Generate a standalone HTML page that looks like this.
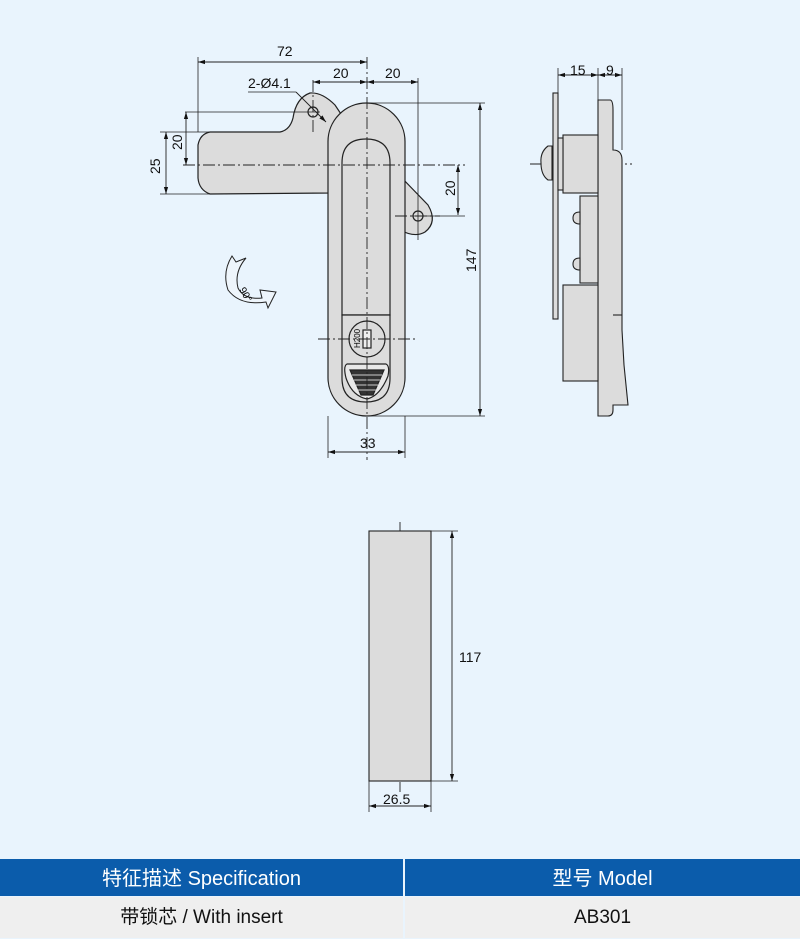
<!DOCTYPE html>
<html><head><meta charset="utf-8"><style>
body{margin:0;width:800px;height:937px;background:#e9f4fd;overflow:hidden;font-family:"Liberation Sans","Noto Sans CJK SC",sans-serif;}
svg{position:absolute;left:0;top:0}
.t{font-family:"Liberation Sans",sans-serif;font-size:14px;fill:#111}
.tbl{position:absolute;left:0;top:859px;width:800px;}
.h{position:absolute;top:0;height:37px;background:#0b5cab;color:#fff;font-size:20px;line-height:40px;text-align:center}
.r{position:absolute;top:38px;height:41px;background:#efefef;color:#111;font-size:19px;line-height:42px;text-align:center}
</style></head><body>
<svg width="800" height="860" viewBox="0 0 800 860">
<defs><marker id="a" viewBox="0 0 10 10" refX="10" refY="5" markerWidth="8" markerHeight="8" orient="auto-start-reverse"><path d="M0,2 L10,5 L0,8 z" fill="#111"/></marker></defs>
<g stroke="#222" stroke-width="1.2" fill="#dcdcdc">
<path d="M210,132 L280,132 Q290,130 293,118 Q296,98 310,93 Q322,92 335,105 L345,120 L330,193 L210,194 Q199,190 198,178 L198,145 Q200,134 210,132 z"/>
<path d="M400,176 L428,205 Q438,222 425,232 Q415,238 400,230 z"/>
<rect x="328" y="103" width="77" height="313" rx="38.5"/>
<path d="M342,315 L342,163 Q342,139 366,139 Q390,139 390,163 L390,315 z"/>
<path d="M342,315 L390,315 L390,378 Q390,402 366,402 Q342,402 342,378 z" fill="#dcdcdc"/>
<circle cx="367" cy="339" r="18"/>
<rect x="363" y="330" width="8" height="18" fill="#eee"/>
<path d="M347,364 L386,364 Q390,366 388,376 Q380,396 367,399 Q352,396 346,378 Q343,366 347,364 z" fill="#e8e8e8"/>
<path d="M350,370 L384,370 L373,395 L361,395 z" fill="#333"/>
<circle cx="313" cy="112" r="5" fill="none"/>
<circle cx="418" cy="216" r="5" fill="none"/>
</g>
<g stroke="#fff" stroke-width="0.8"><line x1="352" y1="375" x2="382" y2="375"/><line x1="354" y1="380" x2="380" y2="380"/><line x1="356" y1="385" x2="378" y2="385"/><line x1="358" y1="390" x2="376" y2="390"/></g>
<text x="352" y="350" font-size="8" transform="rotate(-90 355 345)" font-family="Liberation Sans">H200</text>
<g stroke="#222" stroke-width="0.9" stroke-dasharray="12,3,2,3" fill="none">
<line x1="367" y1="57" x2="367" y2="460"/>
<line x1="183" y1="165" x2="465" y2="165"/>
<line x1="318" y1="339" x2="415" y2="339"/>
<line x1="313" y1="80" x2="313" y2="135"/>
<line x1="395" y1="216" x2="440" y2="216"/>
<line x1="530" y1="164" x2="632" y2="164"/>
<line x1="400" y1="522" x2="400" y2="792"/>
</g>
<g stroke="#222" stroke-width="0.8">
<line x1="198" y1="57" x2="198" y2="132"/>
<line x1="418" y1="78" x2="418" y2="240"/>
<line x1="185" y1="112" x2="320" y2="112"/>
<line x1="160" y1="132" x2="210" y2="132"/>
<line x1="160" y1="194" x2="215" y2="194"/>
<line x1="370" y1="103" x2="485" y2="103"/>
<line x1="370" y1="416" x2="485" y2="416"/>
<line x1="410" y1="216" x2="465" y2="216"/>
<line x1="328" y1="416" x2="328" y2="458"/>
<line x1="405" y1="416" x2="405" y2="458"/>
<line x1="558" y1="68" x2="558" y2="95"/>
<line x1="598" y1="68" x2="598" y2="100"/>
<line x1="622" y1="68" x2="622" y2="150"/>
<line x1="369" y1="781" x2="369" y2="812"/>
<line x1="431" y1="781" x2="431" y2="812"/>
<line x1="431" y1="531" x2="458" y2="531"/>
<line x1="431" y1="781" x2="458" y2="781"/>
<line x1="248" y1="92" x2="296" y2="92"/>
</g>
<g stroke="#222" stroke-width="0.9" marker-start="url(#a)" marker-end="url(#a)">
<line x1="198" y1="62" x2="367" y2="62"/>
<line x1="313" y1="82" x2="367" y2="82"/>
<line x1="367" y1="82" x2="418" y2="82"/>
<line x1="480" y1="103" x2="480" y2="416"/>
<line x1="186" y1="112" x2="186" y2="165"/>
<line x1="166" y1="132" x2="166" y2="194"/>
<line x1="458" y1="165" x2="458" y2="215"/>
<line x1="328" y1="452" x2="405" y2="452"/>
<line x1="558" y1="75" x2="598" y2="75"/>
<line x1="598" y1="75" x2="622" y2="75"/>
<line x1="452" y1="531" x2="452" y2="781"/>
<line x1="369" y1="806" x2="431" y2="806"/>
</g>
<line x1="296" y1="92" x2="326" y2="122" stroke="#222" stroke-width="0.9" marker-end="url(#a)"/>
<g class="t">
<text x="277" y="56">72</text>
<text x="333" y="78">20</text>
<text x="385" y="78">20</text>
<text x="248" y="88">2-Ø4.1</text>
<text x="360" y="448">33</text>
<text x="570" y="75">15</text>
<text x="606" y="75">9</text>
<text x="459" y="662">117</text>
<text x="383" y="804">26.5</text>
<text transform="translate(182,150) rotate(-90)">20</text>
<text transform="translate(160,174) rotate(-90)">25</text>
<text transform="translate(455,196) rotate(-90)">20</text>
<text transform="translate(476,272) rotate(-90)">147</text>
</g>
<path d="M232,256 L236,262 L246,258 Q234,272 238,288 Q244,300 262,298 L260,290 L276,292 L268,308 L266,302 Q240,306 228,290 Q222,272 232,256 z" fill="#eef5fb" stroke="#222" stroke-width="1"/>
<text x="240" y="296" font-size="10" transform="rotate(60 245 292)" font-family="Liberation Sans">90°</text>
<g stroke="#222" stroke-width="1.1" fill="#dcdcdc">
<rect x="553" y="93" width="5" height="226"/>
<path d="M598,100 L610,100 Q613,100 613,110 L613,150 Q622,150 622,160 L622,330 L624,365 Q627,395 628,405 L613,405 L613,410 Q613,416 608,416 L598,416 z"/>
<rect x="563" y="135" width="35" height="58"/>
<rect x="558" y="138" width="5" height="52"/>
<path d="M552,146 L548,146 Q540,152 541,163 Q541,175 548,180 L552,180 z"/>
<rect x="580" y="196" width="18" height="87"/>
<rect x="563" y="285" width="35" height="96"/>
<path d="M580,212 Q573,212 573,218 Q573,224 580,224 z"/>
<path d="M580,258 Q573,258 573,264 Q573,270 580,270 z"/>
<line x1="613" y1="315" x2="622" y2="315"/>
</g>
<rect x="369" y="531" width="62" height="250" fill="#dcdcdc" stroke="#222" stroke-width="1.1"/>
</svg>
<div class="tbl">
<div class="h" style="left:0;width:403px">特征描述 Specification</div>
<div class="h" style="left:405px;width:395px">型号 Model</div>
<div class="r" style="left:0;width:403px">带锁芯 / With insert</div>
<div class="r" style="left:405px;width:395px">AB301</div>
</div>
</body></html>
